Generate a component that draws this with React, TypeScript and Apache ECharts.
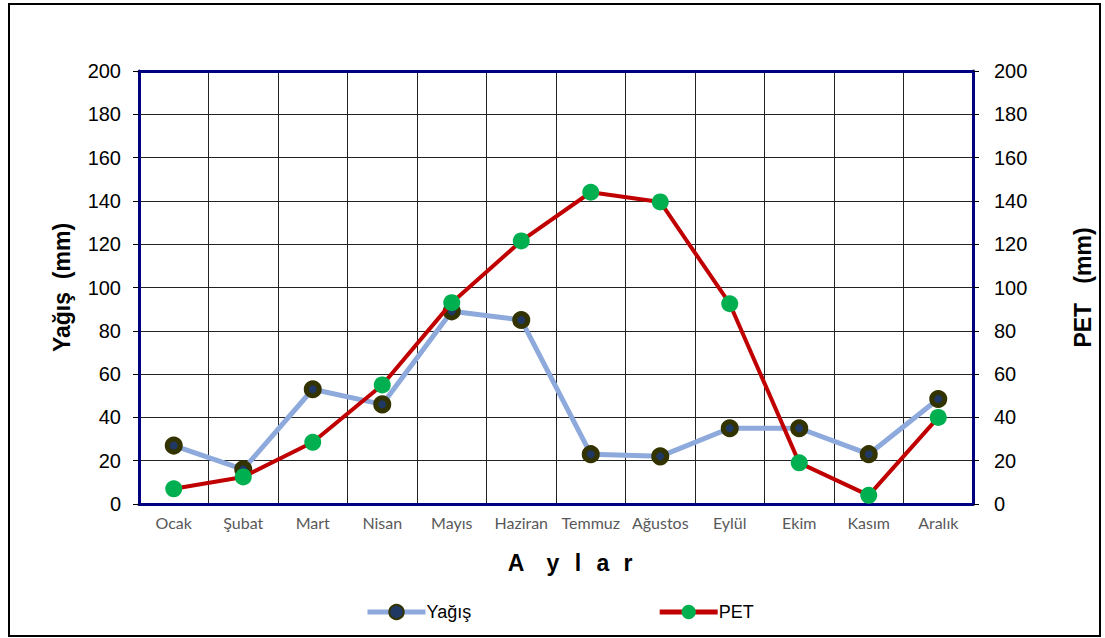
import React, { useEffect, useRef } from "react";
import * as echarts from "echarts";

const months = ["Ocak", "Şubat", "Mart", "Nisan", "Mayıs", "Haziran", "Temmuz", "Ağustos", "Eylül", "Ekim", "Kasım", "Aralık"];
const yagis = [27, 16, 53, 46, 89, 85, 23, 22, 35, 35, 23, 48.5];
const pet = [7, 12.5, 28.5, 55, 93, 121.5, 144, 139.5, 92.5, 19, 4, 40];
const yTicks = { min: 0, max: 200, interval: 20 };
const xTitleLetters = ["A", "y", "l", "a", "r"];

export default function App() {
  const ref = useRef<HTMLDivElement>(null);
  useEffect(() => {
    const chart = echarts.init(ref.current!, null, { renderer: "svg" });
    const letterX = [516, 553, 578, 603, 628];
    const axisLabelY = { color: "#000", fontFamily: "Liberation Sans, Arial", fontSize: 20 };
    chart.setOption({
      animation: false,
      backgroundColor: "#fff",
      grid: { left: 139, right: 132, top: 71, bottom: 134, containLabel: false },
      legend: {
        left: 360,
        top: 598,
        itemGap: 186,
        itemWidth: 58,
        itemHeight: 18,
        textStyle: { fontFamily: "Liberation Sans, Arial", fontSize: 18, color: "#000", padding: [0, 0, 0, -4] },
        data: [
          { name: "Yağış", lineStyle: { width: 5, color: "#8EA9DB" } },
          { name: "PET", lineStyle: { width: 5, color: "#C00000" } },
        ],
      },
      xAxis: [
        {
          type: "category",
          data: months,
          boundaryGap: true,
          axisLine: { show: true, onZero: false, lineStyle: { color: "#000080", width: 3 } },
          axisTick: { show: false },
          axisLabel: { color: "#595959", fontFamily: "Lato, Noto Sans", fontSize: 16, margin: 10, interval: 0 },
          splitLine: { show: true, interval: 0, lineStyle: { color: "#222", width: 1 } },
        },
        {
          type: "category",
          data: months,
          position: "top",
          axisLine: { show: true, onZero: false, lineStyle: { color: "#000080", width: 3 } },
          axisTick: { show: false },
          axisLabel: { show: false },
          splitLine: { show: false },
        },
      ],
      yAxis: [
        {
          type: "value",
          ...yTicks,
          position: "left",
          axisLine: { show: true, lineStyle: { color: "#000080", width: 3 } },
          axisTick: { show: true, length: 6, lineStyle: { color: "#000", width: 1 } },
          axisLabel: { ...axisLabelY, margin: 18 },
          splitLine: { show: true, lineStyle: { color: "#222", width: 1 } },
          name: "Yağış  (mm)",
          nameLocation: "middle",
          nameGap: 66,
          nameRotate: 90,
          nameTextStyle: { fontFamily: "Liberation Sans, Arial", fontSize: 23, fontWeight: "bold", color: "#000" },
        },
        {
          type: "value",
          ...yTicks,
          position: "right",
          axisLine: { show: true, lineStyle: { color: "#000080", width: 3 } },
          axisTick: { show: true, length: 6, lineStyle: { color: "#000", width: 1 } },
          axisLabel: { ...axisLabelY, margin: 21 },
          splitLine: { show: false },
          name: "PET   (mm)",
          nameLocation: "middle",
          nameGap: 98,
          nameRotate: 90,
          nameTextStyle: { fontFamily: "Liberation Sans, Arial", fontSize: 23, fontWeight: "bold", color: "#000" },
        },
      ],
      graphic: [
        {
          type: "rect",
          shape: { x: 9, y: 4, width: 1091, height: 632 },
          style: { fill: "none", stroke: "#000", lineWidth: 2 },
          silent: true,
          z: -10,
        },
        ...xTitleLetters.map((l, i) => ({
          type: "text",
          x: letterX[i],
          y: 563,
          style: {
            text: l,
            fontFamily: "Liberation Sans, Arial",
            fontSize: 23,
            fontWeight: "bold",
            fill: "#000",
            align: "center",
            verticalAlign: "middle",
          },
        })),
      ],
      series: [
        {
          name: "Yağış",
          type: "line",
          data: yagis,
          yAxisIndex: 0,
          symbol: "circle",
          symbolSize: 13,
          lineStyle: { color: "#8EA9DB", width: 5 },
          itemStyle: { color: "#203864", borderColor: "#333300", borderWidth: 5 },
          z: 3,
        },
        {
          name: "PET",
          type: "line",
          data: pet,
          yAxisIndex: 1,
          symbol: "circle",
          symbolSize: 17,
          lineStyle: { color: "#C00000", width: 4 },
          itemStyle: { color: "#00B050" },
          z: 4,
        },
      ],
    });
    return () => chart.dispose();
  }, []);
  return <div ref={ref} style={{ position: "absolute", left: 0, top: 0, width: 1105, height: 638 }} />;
}
